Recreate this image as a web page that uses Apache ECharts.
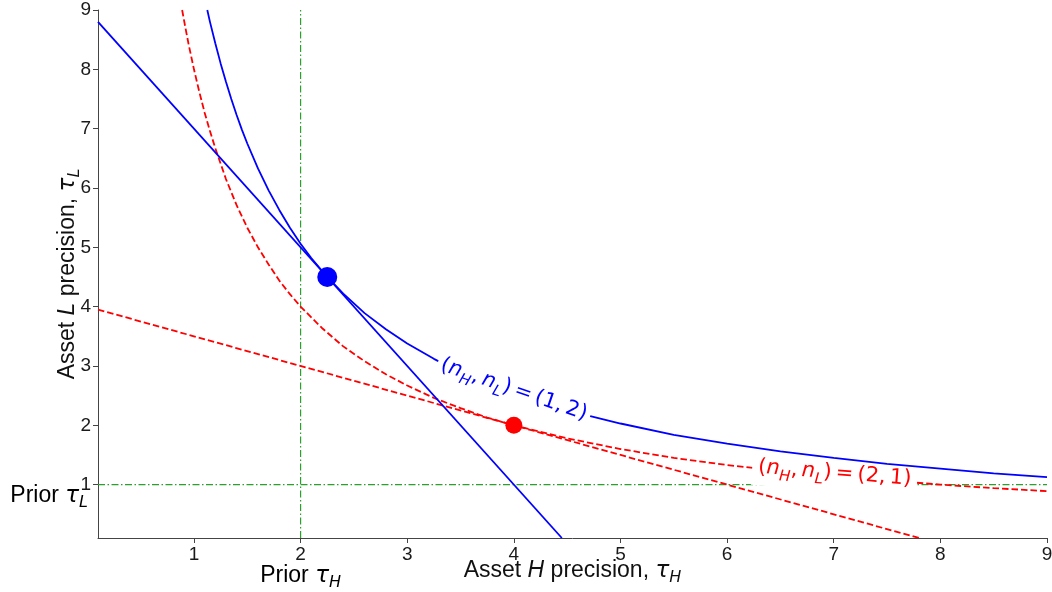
<!DOCTYPE html>
<html>
<head>
<meta charset="utf-8">
<script src="https://cdn.jsdelivr.net/npm/echarts@6/dist/echarts.min.js"></script>
<style>html,body{margin:0;padding:0;background:#fff}#c{width:1052px;height:592px}</style>
</head>
<body>
<div id="c"></div>
<script>
// ---- data ----
const xTicks = [1, 2, 3, 4, 5, 6, 7, 8, 9];
const yTicks = [1, 2, 3, 4, 5, 6, 7, 8, 9];
const axisMin = 0.1, axisMax = 9;

// blue indifference curve, (nH,nL)=(1,2)
const blueCurveX = [1.125,1.15,1.2,1.25,1.3,1.35,1.4,1.45,1.5,1.6,1.7,1.8,1.9,2.0,2.1,2.25,2.4,2.6,2.8,3.0,3.25,3.5,3.75,4.0,4.5,5.0,5.5,6.0,6.5,7.0,7.5,8.0,8.5,9.0];
const blueCurveY = [9.0,8.80,8.44,8.10,7.79,7.50,7.23,6.98,6.75,6.33,5.96,5.63,5.33,5.06,4.82,4.5,4.22,3.89,3.62,3.38,3.12,2.89,2.70,2.53,2.25,2.03,1.84,1.69,1.56,1.45,1.35,1.27,1.19,1.125];
// red indifference curve, (nH,nL)=(2,1)
const redCurveX = [0.889,0.92,0.95,1.0,1.05,1.1,1.15,1.2,1.3,1.4,1.5,1.6,1.7,1.8,1.9,2.0,2.2,2.4,2.6,2.8,3.0,3.25,3.5,3.75,4.0,4.5,5.0,5.5,6.0,6.5,7.0,7.5,8.0,8.5,9.0];
const redCurveY = [9.0,8.70,8.42,8.0,7.62,7.27,6.96,6.67,6.15,5.71,5.33,5.0,4.71,4.44,4.21,4.0,3.64,3.33,3.08,2.86,2.67,2.46,2.29,2.13,2.0,1.78,1.6,1.45,1.33,1.23,1.14,1.07,1.0,0.94,0.89];
// tangent (budget) lines
const blueLineX = [0.1, 4.45], blueLineY = [8.8, 0.1];
const redLineX = [0.1, 7.8], redLineY = [3.95, 0.1];
// priors
const priorH = 2, priorL = 1;
// optimum points
const blueOpt = [2.25, 4.5];
const redOpt = [4.0, 2.0];
// curve label anchors
const blueLabelPos = [4.0, 2.6];
const redLabelPos = [7.01, 1.2];

const zip = (xs, ys) => xs.map((x, i) => [x, ys[i]]);

const MATH = "'DejaVu Sans'";
const SANS = "'Liberation Sans', Arial, sans-serif";
const TS = '\u2009';

const mathRich = (color, size) => ({
  r: {fontFamily: MATH, fontSize: size, color: color, lineHeight: 30, verticalAlign: 'middle'},
  n: {fontFamily: MATH, fontStyle: 'italic', fontSize: size, color: color, lineHeight: 30, verticalAlign: 'middle'},
  s: {fontFamily: MATH, fontStyle: 'italic', fontSize: Math.round(size * 0.7), color: color, lineHeight: 15, verticalAlign: 'bottom'}
});

const chart = echarts.init(document.getElementById('c'), null, {renderer: 'canvas'});

const axisCommon = {
  type: 'value', min: axisMin, max: axisMax,
  axisLine: {show: true, lineStyle: {color: '#444', width: 1}},
  splitLine: {show: false},
  nameMoveOverlap: false
};

const NF = 23;
const nameRich = {
  a: {fontFamily: SANS, fontSize: NF, color: '#111', lineHeight: 30, verticalAlign: 'middle'},
  i: {fontFamily: SANS, fontStyle: 'italic', fontSize: NF, color: '#111', lineHeight: 30, verticalAlign: 'middle'},
  t: {fontFamily: MATH, fontStyle: 'italic', fontSize: NF, color: '#111', lineHeight: 30, verticalAlign: 'middle'},
  s: {fontFamily: MATH, fontStyle: 'italic', fontSize: 16, color: '#111', lineHeight: 16, verticalAlign: 'bottom'}
};

const lineBase = {type: 'line', showSymbol: false, silent: true, smooth: false, sampling: null, clip: true};

const mathLabel = (a, b) =>
  '{r|(}{n|n}{s|H}{r|,' + TS + '}{n|n}{s|L}{r|)' + TS + '=' + TS + '(' + a + ',' + TS + b + ')}';

const option = {
  animation: false,
  backgroundColor: '#fff',
  grid: {left: 98, right: 5, top: 10, bottom: 54, containLabel: false, outerBoundsMode: 'none'},
  xAxis: Object.assign({}, axisCommon, {
    axisTick: {show: true, length: 5, lineStyle: {color: '#444'}, customValues: xTicks},
    axisLabel: {customValues: xTicks, fontFamily: SANS, fontSize: 19, color: '#1a1a1a', margin: 7},
    name: '{a|Asset }{i|H}{a| precision, }{t|τ}{s|H}',
    nameLocation: 'middle', nameGap: 18,
    nameTextStyle: {rich: nameRich}
  }),
  yAxis: Object.assign({}, axisCommon, {
    axisTick: {show: true, length: 5, lineStyle: {color: '#444'}, customValues: yTicks},
    axisLabel: {customValues: yTicks, fontFamily: SANS, fontSize: 19, color: '#1a1a1a', margin: 7},
    name: '{a|Asset }{i|L}{a| precision, }{t|τ}{s|L}',
    nameLocation: 'middle', nameGap: 15, nameRotate: 90,
    nameTextStyle: {rich: nameRich}
  }),
  series: [
    Object.assign({}, lineBase, {z: 1, data: [[priorH, axisMin], [priorH, axisMax]],
     lineStyle: {color: '#2ca02c', width: 1.2, type: [7, 2.5, 1.5, 2.5]}}),
    Object.assign({}, lineBase, {z: 1, data: [[axisMin, priorL], [axisMax, priorL]],
     lineStyle: {color: '#2ca02c', width: 1.2, type: [7, 2.5, 1.5, 2.5]}}),
    Object.assign({}, lineBase, {z: 2, data: zip(redCurveX, redCurveY),
     lineStyle: {color: '#ff0000', width: 1.8, type: [6.5, 3]}}),
    Object.assign({}, lineBase, {z: 2, data: zip(redLineX, redLineY),
     lineStyle: {color: '#ff0000', width: 1.8, type: [6.5, 3]}}),
    {type: 'scatter', z: 3, silent: true, symbolSize: 1, itemStyle: {color: 'rgba(0,0,0,0)', opacity: 1},
     data: [redLabelPos],
     label: {show: true, position: 'inside', rotate: -4.5, opacity: 1,
       formatter: mathLabel(2, 1),
       backgroundColor: '#ffffff', padding: [4, 6, 3, 6],
       rich: mathRich('#ff0000', 21)}},
    Object.assign({}, lineBase, {z: 4, data: zip(blueCurveX, blueCurveY),
     lineStyle: {color: '#0000ff', width: 1.8}}),
    Object.assign({}, lineBase, {z: 4, data: zip(blueLineX, blueLineY),
     lineStyle: {color: '#0000ff', width: 1.8}}),
    {type: 'scatter', z: 5, silent: true, symbolSize: 1, itemStyle: {color: 'rgba(0,0,0,0)', opacity: 1},
     data: [blueLabelPos],
     label: {show: true, position: 'inside', rotate: -19, opacity: 1,
       formatter: mathLabel(1, 2),
       backgroundColor: '#ffffff', padding: [0, 4, 0, 4],
       rich: mathRich('#0000ff', 21)}},
    {type: 'scatter', z: 6, silent: true, symbol: 'circle', symbolSize: 20, data: [blueOpt],
     itemStyle: {color: '#0000ff', opacity: 1}},
    {type: 'scatter', z: 6, silent: true, symbol: 'circle', symbolSize: 17, data: [redOpt],
     itemStyle: {color: '#ff0000', opacity: 1}}
  ]
};
chart.setOption(option);

// "Prior" labels placed from data coordinates
const pH = chart.convertToPixel({gridIndex: 0}, [priorH, axisMin]);
const pL = chart.convertToPixel({gridIndex: 0}, [axisMin, priorL]);
chart.setOption({
  graphic: [
    {type: 'text', x: pH[0], y: pH[1] + 38, silent: true,
     style: {text: '{a|Prior }{t|τ}{s|H}', align: 'center', verticalAlign: 'middle', rich: nameRich}},
    {type: 'text', x: pL[0] - 10, y: pL[1] + 11, silent: true,
     style: {text: '{a|Prior }{t|τ}{s|L}', align: 'right', verticalAlign: 'middle', rich: nameRich}}
  ]
});
</script>
</body>
</html>
